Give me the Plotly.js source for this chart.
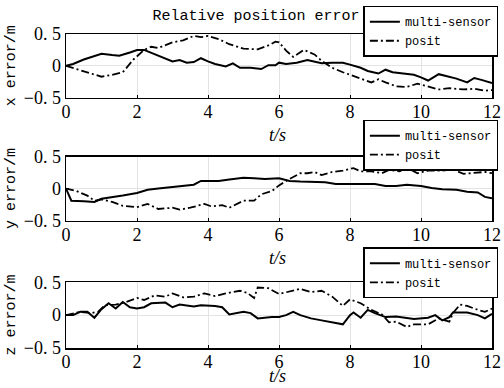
<!DOCTYPE html>
<html><head><meta charset="utf-8">
<script src="https://cdn.plot.ly/plotly-3.0.1.min.js"></script>
<style>html,body{margin:0;padding:0;background:#fff}#c{width:504px;height:388px}</style>
</head><body><div id="c"></div>
<script>
const seriesNames = ['multi-sensor', 'posit'];
const yTickVals = [-0.5, 0, 0.5];
const yTickText = ['\u22120. 5', '0', '0. 5'];
const xTickVals = [0, 2, 4, 6, 8, 10, 12];
const yTitles = ['x error/m', 'y error/m', 'z error/m'];
const xTitle = 't/s';

const xMultiT = [0,0.2,0.5,0.8,1.0,1.3,1.5,1.8,2.0,2.2,2.5,2.8,3.0,3.2,3.4,3.6,3.8,4.0,4.2,4.5,4.7,4.9,5.2,5.5,5.7,5.9,6.0,6.2,6.5,6.8,7.0,7.2,7.5,7.8,8.0,8.3,8.5,8.8,9.0,9.2,9.5,9.8,10.0,10.2,10.5,10.8,11.0,11.3,11.5,11.7,12];
const xMultiV = [0,0.03,0.1,0.16,0.19,0.17,0.16,0.21,0.25,0.25,0.18,0.12,0.07,0.09,0.05,0.06,0.12,0.07,0.03,-0.01,0.04,-0.03,-0.03,-0.05,0.01,0.01,0.05,0.03,0.05,0.09,0.07,0.04,0.05,0.05,0.02,-0.03,-0.08,-0.12,-0.06,-0.1,-0.12,-0.14,-0.18,-0.23,-0.13,-0.17,-0.2,-0.26,-0.19,-0.22,-0.27];
const xPositT = [0,0.5,1.0,1.3,1.6,1.9,2.2,2.4,2.6,3.0,3.3,3.6,3.8,4.0,4.3,4.6,5.0,5.4,5.7,5.9,6.0,6.2,6.4,6.7,7.0,7.2,7.5,7.8,8.0,8.3,8.6,8.8,9.0,9.3,9.6,9.9,10.2,10.5,10.8,11.0,11.2,11.5,11.8,12];
const xPositV = [0,-0.08,-0.17,-0.14,-0.1,0.1,0.25,0.3,0.28,0.37,0.4,0.47,0.45,0.47,0.42,0.34,0.27,0.26,0.32,0.38,0.37,0.24,0.14,0.25,0.18,0.08,-0.03,-0.1,-0.14,-0.21,-0.26,-0.21,-0.26,-0.32,-0.33,-0.28,-0.32,-0.37,-0.35,-0.36,-0.37,-0.36,-0.39,-0.38];

const yMultiT = [0,0.15,0.5,0.8,1.0,1.3,1.6,2.0,2.3,2.6,3.0,3.3,3.6,3.8,4.0,4.3,4.6,5.0,5.3,5.6,6.0,6.3,6.6,7.0,7.3,7.6,8.0,8.4,8.7,9.0,9.3,9.6,10.0,10.3,10.6,11.0,11.3,11.6,11.8,12];
const yMultiV = [0,-0.19,-0.2,-0.21,-0.16,-0.14,-0.11,-0.07,-0.02,0.0,0.02,0.04,0.06,0.12,0.12,0.12,0.14,0.17,0.16,0.15,0.16,0.12,0.11,0.11,0.1,0.07,0.07,0.08,0.07,0.04,0.04,0.06,0.04,0.01,-0.01,-0.02,-0.05,-0.06,-0.13,-0.15];
const yPositT = [0,0.3,0.6,0.8,1.0,1.3,1.6,2.0,2.3,2.6,3.0,3.2,3.5,3.9,4.1,4.4,4.6,5.0,5.3,5.5,5.8,6.0,6.3,6.6,6.8,7.0,7.2,7.5,7.8,8.1,8.3,8.6,8.9,9.1,9.4,9.6,9.9,10.2,10.6,10.9,11.2,11.5,11.8,12];
const yPositV = [0,-0.04,-0.11,-0.19,-0.17,-0.21,-0.27,-0.29,-0.24,-0.32,-0.3,-0.33,-0.3,-0.24,-0.28,-0.26,-0.3,-0.19,-0.19,-0.09,-0.04,0.05,0.15,0.24,0.24,0.26,0.21,0.26,0.28,0.32,0.27,0.27,0.24,0.29,0.27,0.33,0.24,0.28,0.28,0.3,0.23,0.25,0.26,0.24];

const zMultiT = [0,0.2,0.4,0.6,0.8,1.0,1.2,1.4,1.6,1.8,2.0,2.2,2.4,2.8,3.0,3.2,3.6,3.8,4.2,4.4,4.6,5.0,5.2,5.4,5.8,6.0,6.2,6.4,6.6,6.9,7.2,7.5,7.8,8.0,8.1,8.3,8.5,8.7,9.0,9.3,9.6,9.8,10.2,10.4,10.6,10.8,10.9,11.3,11.6,11.8,12];
const zMultiV = [0,0,0.05,0.05,-0.04,0.09,0.18,0.1,0.2,0.12,0.1,0.12,0.18,0.19,0.12,0.16,0.13,0.15,0.14,0.12,0.01,0.05,0.03,-0.05,-0.03,-0.03,0.0,0.05,0.0,-0.05,-0.08,-0.11,-0.14,0,0.04,-0.04,0.08,0.03,-0.03,-0.02,-0.04,-0.06,-0.04,0.0,-0.08,-0.03,0.04,0.04,0.0,-0.05,0.02];
const zPositT = [0,0.4,0.7,0.9,1.1,1.4,1.7,2.0,2.2,2.5,2.8,3.0,3.3,3.6,3.9,4.2,4.5,4.9,5.1,5.3,5.4,5.7,6.0,6.3,6.6,6.9,7.2,7.5,7.8,8.0,8.3,8.6,8.9,9.1,9.3,9.6,9.8,10.2,10.5,10.8,10.9,11.1,11.3,11.6,11.8,12];
const zPositV = [0,0.05,0.03,0.05,0.15,0.16,0.2,0.26,0.23,0.3,0.28,0.33,0.27,0.28,0.33,0.29,0.33,0.37,0.34,0.26,0.42,0.41,0.32,0.36,0.4,0.35,0.37,0.28,0.14,0.24,0.18,0.08,0.01,-0.11,-0.1,-0.18,-0.14,-0.14,-0.05,-0.1,0.03,0.16,0.14,0.08,0.05,0.1];

const sets = [[xMultiT,xMultiV,xPositT,xPositV],[yMultiT,yMultiV,yPositT,yPositV],[zMultiT,zMultiV,zPositT,zPositV]];

const solidLine = {color:'#000', width:2};
const dashLine = {color:'#000', width:1.8, dash:'8px,3px,2px,3px'};
const traces = [];
sets.forEach((s, i) => {
  const sfx = i === 0 ? '' : String(i+1);
  traces.push({x:s[0], y:s[1], type:'scatter', mode:'lines', name:seriesNames[0], line:solidLine, xaxis:'x'+sfx, yaxis:'y'+sfx, legend:'legend'+sfx});
  traces.push({x:s[2], y:s[3], type:'scatter', mode:'lines', name:seriesNames[1], line:dashLine, xaxis:'x'+sfx, yaxis:'y'+sfx, legend:'legend'+sfx});
});

const serif = 'serif';
const mono = '"Liberation Mono", "DejaVu Sans Mono", monospace';
const domains = [[0.797, 1], [0.406, 0.6095], [0, 0.2095]];
const legTops = [1.09, 0.727, 0.3206];
const xTitleY = [0.679, 0.2857, -0.089];

const layout = {
  width:504, height:388,
  margin:{l:66, r:6, t:33, b:40},
  paper_bgcolor:'#fff', plot_bgcolor:'#fff',
  showlegend:true,
  title:{text:'Relative position error', font:{family:mono, size:15, color:'#000'}, x:0.508, xanchor:'center', y:0.962, yanchor:'middle'},
  annotations: xTitleY.map(yy => ({text:'<i>'+xTitle+'</i>', xref:'paper', yref:'paper', x:0.496, y:yy, xanchor:'center', yanchor:'middle', showarrow:false, font:{family:serif, size:18, color:'#000'}}))
};
for (let i = 0; i < 3; i++) {
  const sfx = i === 0 ? '' : String(i+1);
  layout['xaxis'+sfx] = {
    domain:[0,1], anchor:'y'+sfx, range:[0,12], tickvals:xTickVals,
    showgrid:true, gridcolor:'#e3e3e3', gridwidth:1, zeroline:false,
    showline:true, linecolor:'#000', linewidth:1.5, mirror:true,
    ticks:'inside', ticklen:3, tickcolor:'#000', ticklabeloverflow:'allow', ticklabelstandoff:-3,
    tickfont:{family:serif, size:18, color:'#000'}
  };
  layout['yaxis'+sfx] = {
    domain:domains[i], anchor:'x'+sfx, range:[-0.5,0.5], tickvals:yTickVals, ticktext:yTickText,
    showgrid:true, gridcolor:'#e3e3e3', gridwidth:1, zeroline:false,
    showline:true, linecolor:'#000', linewidth:1.5, mirror:true,
    ticks:'inside', ticklen:3, tickcolor:'#000', ticklabeloverflow:'allow',
    tickfont:{family:serif, size:18, color:'#000'},
    title:{text:yTitles[i], font:{family:mono, size:15, color:'#000'}, standoff:4}
  };
  layout['legend'+sfx] = {
    x:1.015, xanchor:'right', y:legTops[i], yanchor:'top',
    bgcolor:'#fff', bordercolor:'#000', borderwidth:1.5,
    font:{family:mono, size:12, color:'#000'},
    tracegroupgap:0, itemwidth:30
  };
}
Plotly.newPlot('c', traces, layout, {staticPlot:true, displayModeBar:false});
</script>
</body></html>
